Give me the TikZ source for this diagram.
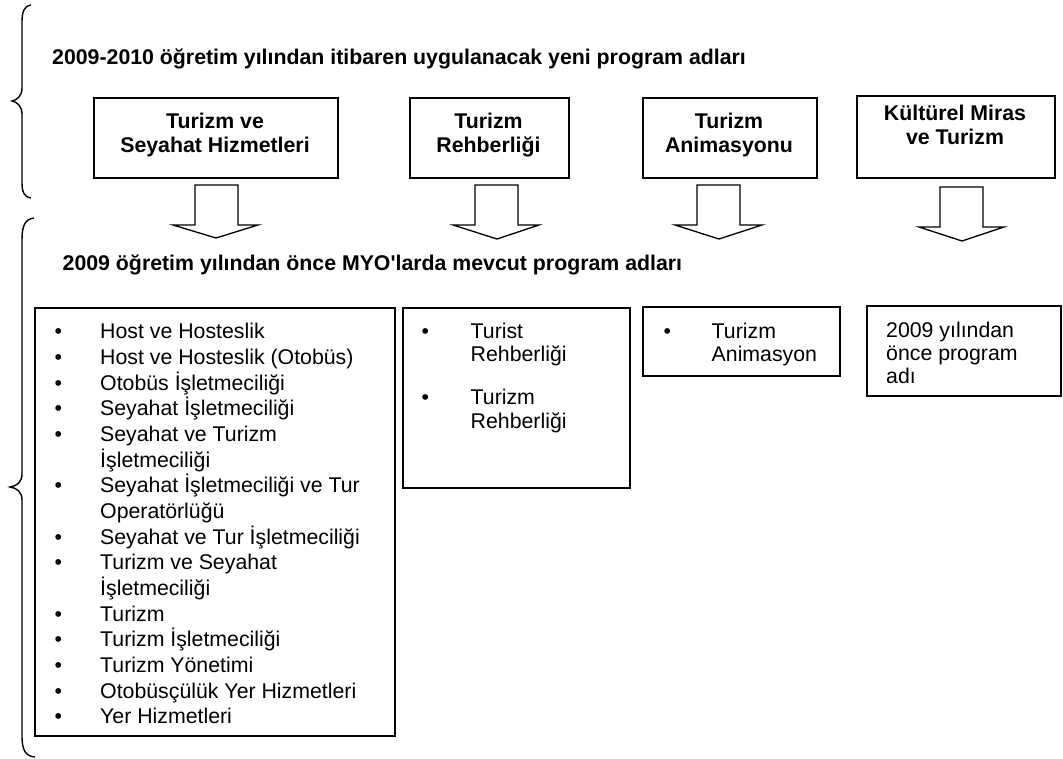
\documentclass[tikz,border=0pt]{standalone}
\usepackage{fontspec}
\setmainfont{Liberation Sans}
\newcommand\bl[1]{\makebox[#1][l]{•}}
\newcommand\ind[1]{\hspace*{#1}}
\begin{document}
\begin{tikzpicture}[x=1pt,y=-1pt, line join=miter,
  box/.style={draw, line width=1.5pt, inner sep=0pt, anchor=north west},
  title/.style={font=\fontsize{21.3}{24}\selectfont\bfseries, align=center, inner sep=0pt, anchor=north},
  head/.style={font=\fontsize{21.3}{24}\selectfont\bfseries, inner sep=0pt, anchor=base west},
  lst/.style={align=left, inner sep=0pt, anchor=north west},
  blk/.style={draw, line width=1.3pt, fill=white},
  brc/.style={draw, line width=1.4pt}]
\useasboundingbox (0,0) rectangle (1063,758);

% braces
\path[brc] (31,5) .. controls (24,6) and (22,12) .. (22,22) -- (22,88)
  .. controls (22,96) and (17,100) .. (12,101) .. controls (17,102) and (22,106) .. (22,114)
  -- (22,182) .. controls (22,192) and (24,197) .. (31,198);
\path[brc] (34,218) .. controls (25,219) and (22,226) .. (22,240) -- (22,474)
  .. controls (22,482) and (17,486) .. (10,487) .. controls (17,488) and (22,492) .. (22,500)
  -- (22,735) .. controls (22,750) and (25,756) .. (35,757);

% headings
\node[head] (h1) at (52,64) {2009-2010 öğretim yılından itibaren uygulanacak yeni program adları};
\node[head] (h2) at (62.5,270) {2009 öğretim yılından önce MYO\textquotesingle larda mevcut program adları};

% top boxes
\node[box, minimum width=244pt, minimum height=80pt] (t1) at (93,97) {};
\node[box, minimum width=159pt, minimum height=80pt] (t2) at (409,97) {};
\node[box, minimum width=174pt, minimum height=80pt] (t3) at (642,97) {};
\node[box, minimum width=198pt, minimum height=82pt] (t4) at (856,95) {};
\node[title] (t1t) at (215,111.2) {\strut Turizm ve\\Seyahat Hizmetleri};
\node[title] (t2t) at (488.5,111.2) {\strut Turizm\\Rehberliği};
\node[title] (t3t) at (729,111.2) {\strut Turizm\\Animasyonu};
\node[title] (t4t) at (955,103.2) {\strut Kültürel Miras\\ve Turizm};

% block arrows
\path[blk] (195,185) -- (238,185) -- (238,225) -- (258,225) -- (216,238) -- (173,225) -- (195,225) -- cycle;
\path[blk] (475,185) -- (518,185) -- (518,225) -- (539,225) -- (497,239) -- (453,225) -- (475,225) -- cycle;
\path[blk] (697,185) -- (740,185) -- (740,225) -- (762,225) -- (719,239) -- (675,225) -- (697,225) -- cycle;
\path[blk] (940,187) -- (983,187) -- (983,227) -- (1004,227) -- (962,241) -- (919,227) -- (940,227) -- cycle;

% lower boxes
\node[box, minimum width=360pt, minimum height=428pt] (b1) at (34,307) {};
\node[box, minimum width=227pt, minimum height=180pt] (b2) at (402,307) {};
\node[box, minimum width=197pt, minimum height=69pt] (b3) at (642,306) {};
\node[box, minimum width=194pt, minimum height=90pt] (b4) at (866,305) {};

\node[lst, font=\fontsize{21.3}{25.67}\selectfont] (b1t) at (54.3,320.6) {%
\strut\bl{45.7pt}Host ve Hosteslik\\
\bl{45.7pt}Host ve Hosteslik (Otobüs)\\
\bl{45.7pt}Otobüs İşletmeciliği\\
\bl{45.7pt}Seyahat İşletmeciliği\\
\bl{45.7pt}Seyahat ve Turizm\\
\ind{45.7pt}İşletmeciliği\\
\bl{45.7pt}Seyahat İşletmeciliği ve Tur\\
\ind{45.7pt}Operatörlüğü\\
\bl{45.7pt}Seyahat ve Tur İşletmeciliği\\
\bl{45.7pt}Turizm ve Seyahat\\
\ind{45.7pt}İşletmeciliği\\
\bl{45.7pt}Turizm\\
\bl{45.7pt}Turizm İşletmeciliği\\
\bl{45.7pt}Turizm Yönetimi\\
\bl{45.7pt}Otobüsçülük Yer Hizmetleri\\
\bl{45.7pt}Yer Hizmetleri};

\node[lst, font=\fontsize{21.3}{23.5}\selectfont] (b2t) at (421.3,321.55) {%
\strut\bl{49.2pt}Turist\\
\ind{49.2pt}Rehberliği\\[19.5pt]
\bl{49.2pt}Turizm\\
\ind{49.2pt}Rehberliği};

\node[lst, font=\fontsize{21.3}{23.5}\selectfont] (b3t) at (663.3,321.55) {%
\strut\bl{48.2pt}Turizm\\
\ind{48.2pt}Animasyon};

\node[lst, font=\fontsize{21.3}{23}\selectfont] (b4t) at (886,320.9) {%
\strut 2009 yılından\\
önce program\\
adı};
\end{tikzpicture}
\end{document}
